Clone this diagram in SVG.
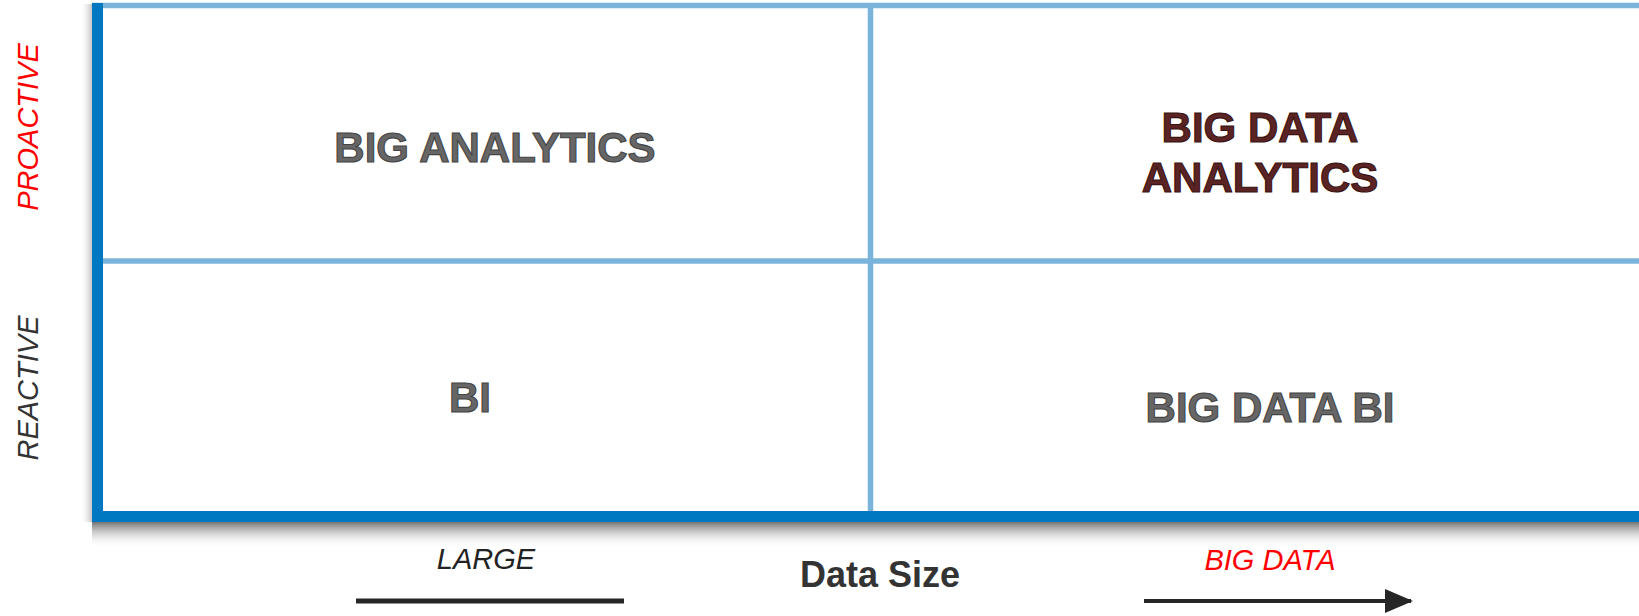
<svg xmlns="http://www.w3.org/2000/svg" width="1639" height="616" viewBox="0 0 1639 616">
<style>
.q{font-family:"Liberation Sans",Arial,sans-serif;font-weight:bold;font-size:42px;text-anchor:middle;stroke-width:1.1}
.g{fill:#666666;stroke:#444444}
.m{fill:#5a2424;stroke:#3a1212}
.ax{font-family:"Liberation Sans",Arial,sans-serif;font-style:italic;font-size:29px;text-anchor:middle}
.lite{stroke:#7ab4da;stroke-width:5.5;fill:none}
.dark{fill:#0078c1}
</style>
<defs>
<linearGradient id="sb" x1="0" y1="0" x2="0" y2="1">
<stop offset="0" stop-color="#444" stop-opacity="0.75"/>
<stop offset="1" stop-color="#fff" stop-opacity="0"/>
</linearGradient>
<linearGradient id="sl" x1="1" y1="0" x2="0" y2="0">
<stop offset="0" stop-color="#555" stop-opacity="0.35"/>
<stop offset="1" stop-color="#fff" stop-opacity="0"/>
</linearGradient>
<marker id="ah" markerWidth="7" markerHeight="6" refX="6.5" refY="3" orient="auto" markerUnits="strokeWidth">
<path d="M0,0 L7,3 L0,6 Z" fill="#262626"/>
</marker>
</defs>
<rect width="1639" height="616" fill="#ffffff"/>
<g id="grid">
<rect x="80" y="4" width="12" height="518" fill="url(#sl)"/>
<rect x="92" y="522" width="1547" height="26" fill="url(#sb)"/>
<line class="lite" x1="92" y1="5.5" x2="1639" y2="5.5"/>
<line class="lite" x1="100" y1="261" x2="1639" y2="261"/>
<line class="lite" x1="870.5" y1="4" x2="870.5" y2="512"/>
<rect class="dark" x="92" y="3" width="11" height="519"/>
<rect class="dark" x="92" y="511" width="1547" height="11"/>
</g>
<g id="node-big-analytics"><text class="q g" x="495" y="162" font-size="43">BIG ANALYTICS</text></g>
<g id="node-big-data-analytics"><text class="q m" x="1260" y="142">BIG DATA</text><text class="q m" x="1260" y="192">ANALYTICS</text></g>
<g id="node-bi"><text class="q g" x="470" y="412">BI</text></g>
<g id="node-big-data-bi"><text class="q g" x="1270" y="422">BIG DATA BI</text></g>
<g id="axis-labels">
<text class="ax" fill="#ff0000" transform="translate(38,127) rotate(-90)">PROACTIVE</text>
<text class="ax" fill="#333333" transform="translate(38,388) rotate(-90)">REACTIVE</text>
<text class="ax" fill="#222222" x="486" y="569">LARGE</text>
<text class="ax" fill="#ff0000" x="1270" y="570">BIG DATA</text>
<text x="880" y="587" font-family="Liberation Sans, Arial, sans-serif" font-weight="bold" font-size="36" fill="#333333" text-anchor="middle">Data Size</text>
</g>
<g id="connectors">
<line x1="356" y1="601" x2="624" y2="601" stroke="#262626" stroke-width="5"/>
<line x1="1144" y1="601" x2="1411" y2="601" stroke="#262626" stroke-width="4" marker-end="url(#ah)"/>
</g>
</svg>
